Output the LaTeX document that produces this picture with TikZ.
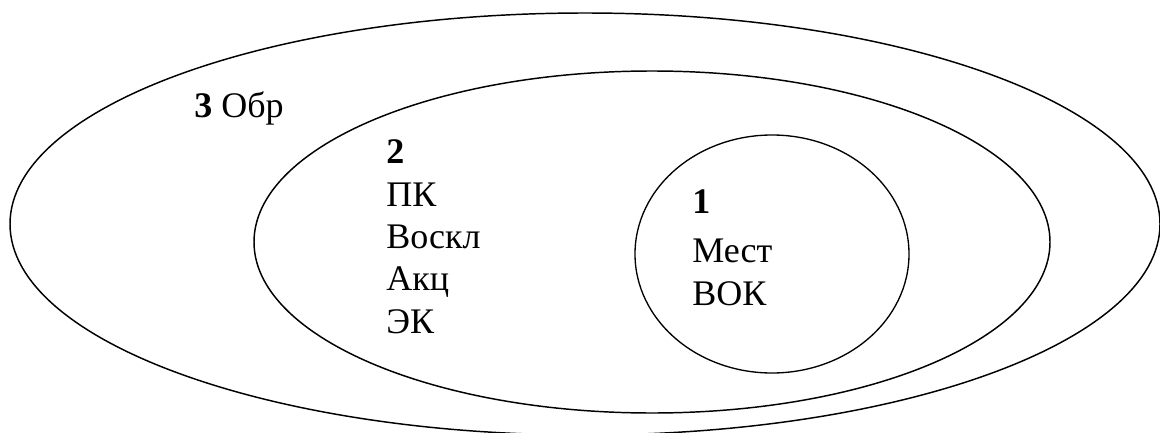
\documentclass[tikz,border=0pt]{standalone}
\usepackage{fontspec}
\setmainfont{Liberation Serif}
\begin{document}
\begin{tikzpicture}[x=0.75pt,y=-0.75pt,
  ring/.style={draw=black,line width=1.1pt},
  lbl/.style={anchor=base west,inner sep=0pt,font=\fontsize{27}{32}\selectfont}]
\useasboundingbox (0,0) rectangle (1160,432);
% nested ellipses
\draw[ring] (585,224) ellipse [x radius=431.25pt, y radius=158.25pt];
\draw[ring] (652,242) ellipse [x radius=298.5pt, y radius=128.25pt];
\draw[ring,line width=1pt] (772,254) ellipse [x radius=102.75pt, y radius=89.25pt];
% level 3
\node[lbl] (l3) at (194,117) {\textbf{3} Обр};
% level 2
\node[lbl] (n2) at (386,163) {\textbf{2}};
\node[lbl] (pk) at (386,206) {ПК};
\node[lbl] (vo) at (386,248) {Воскл};
\node[lbl] (ak) at (386,290) {Акц};
\node[lbl] (ek) at (386,333) {ЭК};
% level 1
\node[lbl] (n1) at (692,213) {\textbf{1}};
\node[lbl] (me) at (692,262) {Мест};
\node[lbl] (vk) at (692,305) {ВОК};
\end{tikzpicture}
\end{document}
